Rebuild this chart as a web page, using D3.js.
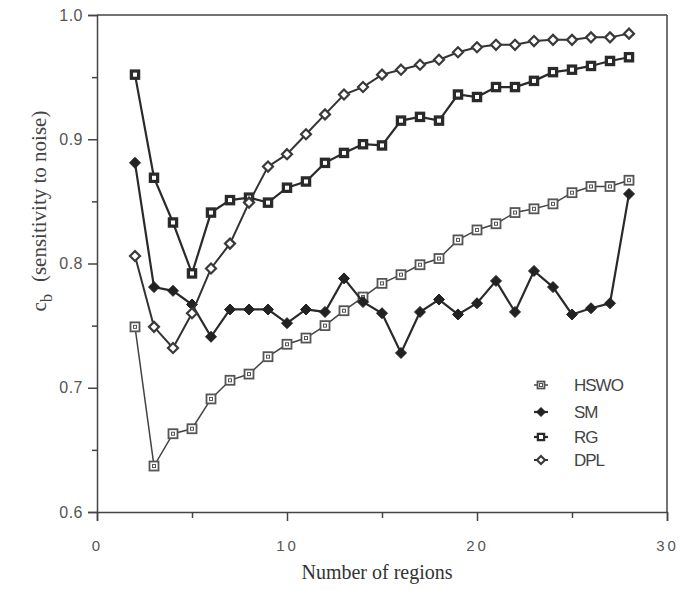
<!DOCTYPE html>
<html>
<head>
<meta charset="utf-8">
<script src="https://cdn.jsdelivr.net/npm/d3@7"></script>
<style>
  body { margin: 0; background: #fff; }
  .tick text { fill: #555; }
</style>
</head>
<body>
<div class="canvas"></div>
<script>
// number of regions
const regions = d3.range(2, 29);

// c_b values
const hswo = [0.749, 0.637, 0.663, 0.667, 0.691, 0.706, 0.711, 0.725, 0.735, 0.740, 0.750, 0.762, 0.773, 0.784,
    0.791, 0.799, 0.804, 0.819, 0.827, 0.832, 0.841, 0.844, 0.848, 0.857, 0.862, 0.862, 0.867];
const sm = [0.881, 0.781, 0.778, 0.767, 0.741, 0.763, 0.763, 0.763, 0.752, 0.763, 0.761, 0.788, 0.769, 0.760,
    0.728, 0.761, 0.771, 0.759, 0.768, 0.786, 0.761, 0.794, 0.781, 0.759, 0.764, 0.768, 0.856];
const rg = [0.952, 0.869, 0.833, 0.792, 0.841, 0.851, 0.853, 0.849, 0.861, 0.866, 0.881, 0.889, 0.896, 0.895,
    0.915, 0.918, 0.915, 0.936, 0.934, 0.942, 0.942, 0.947, 0.954, 0.956, 0.959, 0.963, 0.966];
const dpl = [0.806, 0.749, 0.732, 0.760, 0.796, 0.816, 0.849, 0.878, 0.888, 0.904, 0.920, 0.936, 0.942, 0.952,
    0.956, 0.960, 0.964, 0.970, 0.974, 0.976, 0.976, 0.979, 0.980, 0.980, 0.982, 0.982, 0.985];

const seriesNames = ['HSWO', 'SM', 'RG', 'DPL'];
const xTicks = [0, 10, 20, 30];
const yTicks = [0.6, 0.7, 0.8, 0.9, 1.0];

const dims = {width: 681, height: 590};
const margin = {top: 15, left: 97, right: 14, bottom: 78};
const w = dims.width - margin.left - margin.right;
const h = dims.height - margin.top - margin.bottom;

const svg = d3.select('.canvas')
    .append('svg')
    .attr('width', dims.width)
    .attr('height', dims.height);

const graph = svg.append('g')
    .attr('transform', `translate(${margin.left}, ${margin.top})`);

const x = d3.scaleLinear().domain([0, 30]).range([0, w]);
const y = d3.scaleLinear().domain([0.6, 1.0]).range([h, 0]);

const axisColor = '#444';

// minor ticks first, then major ones
graph.append('g')
    .attr('transform', `translate(0, ${h})`)
    .call(d3.axisBottom(x).tickValues([5, 15, 25]).tickSize(6).tickFormat(''))
    .call(g => g.select('.domain').remove());

const xAxis = graph.append('g')
    .attr('transform', `translate(0, ${h})`)
    .call(d3.axisBottom(x).tickValues(xTicks).tickSize(9).tickPadding(19).tickFormat(d3.format('d')));

graph.append('g')
    .call(d3.axisLeft(y).tickValues([0.65, 0.75, 0.85, 0.95]).tickSize(5).tickFormat(''))
    .call(g => g.select('.domain').remove());

const yAxis = graph.append('g')
    .call(d3.axisLeft(y).tickValues(yTicks).tickSize(9).tickPadding(5).tickFormat(d3.format('.1f')));

graph.selectAll('.tick line').attr('stroke', axisColor).attr('stroke-width', 1.5);
graph.selectAll('.domain').attr('stroke', axisColor).attr('stroke-width', 1.5);

xAxis.selectAll('text')
    .attr('font-family', 'Liberation Sans, Arial, sans-serif')
    .attr('font-size', 15)
    .attr('letter-spacing', 3);

yAxis.selectAll('text')
    .attr('font-family', 'Liberation Sans, Arial, sans-serif')
    .attr('font-size', 16)
    .attr('letter-spacing', 0.5);

// frame top and right
graph.append('line')
    .attr('x1', 0).attr('x2', w).attr('y1', 0).attr('y2', 0)
    .attr('stroke', axisColor).attr('stroke-width', 1.5);
graph.append('line')
    .attr('x1', w).attr('x2', w).attr('y1', 0).attr('y2', h)
    .attr('stroke', axisColor).attr('stroke-width', 1.5);

// axis titles
svg.append('text')
    .attr('x', margin.left + w / 2 - 5)
    .attr('y', 579)
    .attr('text-anchor', 'middle')
    .attr('font-family', 'Liberation Serif, Times New Roman, serif')
    .attr('font-size', 20)
    .attr('fill', '#333')
    .text('Number of regions');

const yTitle = svg.append('text')
    .attr('transform', 'translate(46, 211) rotate(-90)')
    .attr('text-anchor', 'middle')
    .attr('font-family', 'Liberation Serif, Times New Roman, serif')
    .attr('font-size', 21)
    .attr('fill', '#444');
yTitle.append('tspan').text('c');
yTitle.append('tspan').attr('baseline-shift', '-35%').attr('font-size', 16).text('b');
yTitle.append('tspan').attr('dx', 12).text('(sensitivity to noise)');

// series
const line = d3.line()
    .x(d => x(d.x))
    .y(d => y(d.y));

const series = [
    {name: 'HSWO', values: hswo, shape: 'square', fill: '#fff', stroke: '#555', size: 9, sw: 1.8, dot: '#555', lw: 1.5, lc: '#444'},
    {name: 'SM', values: sm, shape: 'diamond', fill: '#222', stroke: '#222', size: 11, sw: 1, dot: null, lw: 2.2, lc: '#2a2a2a'},
    {name: 'RG', values: rg, shape: 'square', fill: '#2a2a2a', stroke: '#2a2a2a', size: 9, sw: 1.5, dot: '#fff', lw: 2.2, lc: '#2a2a2a'},
    {name: 'DPL', values: dpl, shape: 'diamond', fill: '#fff', stroke: '#3a3a3a', size: 10, sw: 2.2, dot: null, lw: 2, lc: '#333'}
];

const drawMarker = (g, s) => {
    if (s.shape === 'square') {
        g.append('rect')
            .attr('x', -s.size / 2).attr('y', -s.size / 2)
            .attr('width', s.size).attr('height', s.size)
            .attr('fill', s.fill).attr('stroke', s.stroke).attr('stroke-width', s.sw);
        if (s.dot) {
            g.append('rect')
                .attr('x', -1.5).attr('y', -1.5).attr('width', 3).attr('height', 3)
                .attr('fill', s.dot === '#fff' ? '#fff' : 'none')
                .attr('stroke', s.dot).attr('stroke-width', 1);
        }
    } else {
        const r = s.size / 2;
        g.append('path')
            .attr('d', `M0,${-r}L${r},0L0,${r}L${-r},0Z`)
            .attr('fill', s.fill).attr('stroke', s.stroke).attr('stroke-width', s.sw);
    }
};

series.forEach(s => {
    const pts = s.values.map((v, i) => ({x: regions[i], y: v}));
    graph.append('path')
        .datum(pts)
        .attr('fill', 'none')
        .attr('stroke', s.lc)
        .attr('stroke-width', s.lw)
        .attr('d', line);

    graph.selectAll(`.m-${s.name}`)
        .data(pts)
        .enter()
        .append('g')
        .attr('class', `m-${s.name}`)
        .attr('transform', d => `translate(${x(d.x)}, ${y(d.y)})`)
        .each(function() { drawMarker(d3.select(this), s); });
});

// legend
const legend = svg.append('g')
    .attr('transform', 'translate(541, 385)');

series.forEach((s, i) => {
    const row = legend.append('g')
        .attr('transform', `translate(0, ${[0, 27, 52, 75][i]})`);
    row.append('line')
        .attr('x1', -7).attr('x2', 7)
        .attr('stroke', s.lc).attr('stroke-width', s.lw);
    drawMarker(row.append('g'), {...s, size: s.size - 2});
    row.append('text')
        .attr('x', 33)
        .attr('dy', '0.35em')
        .attr('font-family', 'Liberation Sans Narrow, Arial Narrow, Liberation Sans, sans-serif')
        .attr('font-size', 17)
        .attr('letter-spacing', -1)
        .attr('fill', '#444')
        .text(seriesNames[i]);
});
</script>
</body>
</html>
